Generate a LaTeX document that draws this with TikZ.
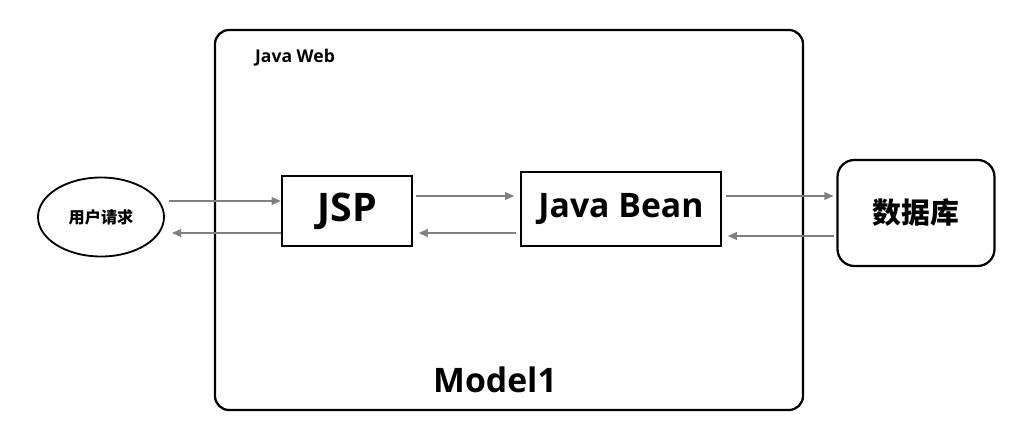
\documentclass[tikz,border=0pt]{standalone}
\usepackage{fontspec}
\setmainfont{Open Sans}
\newfontfamily\cjkfont{Noto Sans CJK SC}
\usetikzlibrary{arrows.meta,positioning,shapes.geometric}
\definecolor{flowgray}{RGB}{128,128,128}

\begin{document}
\begin{tikzpicture}[x=0.025cm,y=-0.025cm,
  frame/.style={rectangle,rounded corners=10pt,draw=black,line width=1.6pt},
  comp/.style={rectangle,draw=black,line width=1.6pt,font=\bfseries\fontsize{24}{28}\selectfont,inner sep=0pt},
  client/.style={ellipse,draw=black,line width=1.3pt,minimum width=126*0.025cm,minimum height=79*0.025cm,inner sep=0pt,font=\cjkfont\bfseries\fontsize{11.5}{13}\selectfont},
  arrow/.style={-{Triangle[length=6.5pt,width=5.5pt]},line width=1pt,draw=flowgray}]
  \useasboundingbox (0,0) rectangle (1020,429);
  % container and its labels
  \node[frame,minimum width=588*0.025cm,minimum height=380*0.025cm] (web) at (509,220) {};
  \node[font=\bfseries\fontsize{12.5}{14}\selectfont] (webtitle) at (295,58) {Java Web};
  \node[font=\bfseries\fontsize{24}{28}\selectfont] (model) at (495,380) {Model1};
  % parts
  \node[client] (user) at (101,217) {用户请求};
  \node[comp,minimum width=130*0.025cm,minimum height=70*0.025cm,font=\bfseries\fontsize{28}{32}\selectfont] (jsp) at (347,211) {JSP};
  \node[comp,minimum width=200*0.025cm,minimum height=74*0.025cm] (bean) at (621,209) {Java Bean};
  \node[frame,rounded corners=12pt,minimum width=157*0.025cm,minimum height=106*0.025cm,
    font=\cjkfont\bfseries\fontsize{20.5}{22}\selectfont] (db) at (916,213) {数据库};
  % requests and responses
  \draw[arrow] (user.east |- 0,201) ++(4,0) -- (jsp.west |- 0,201);
  \draw[arrow] (jsp.west |- 0,233) -- ([xshift=5pt]user.east |- 0,233);
  \draw[arrow] ([xshift=2pt]jsp.east |- 0,196) -- ([xshift=-4pt]bean.west |- 0,196);
  \draw[arrow] ([xshift=-3pt]bean.west |- 0,233) -- ([xshift=4pt]jsp.east |- 0,233);
  \draw[arrow] ([xshift=3pt]bean.east |- 0,196) -- ([xshift=-2pt]db.west |- 0,196);
  \draw[arrow] ([xshift=-2pt]db.west |- 0,236) -- ([xshift=4pt]bean.east |- 0,236);
\end{tikzpicture}
\end{document}
